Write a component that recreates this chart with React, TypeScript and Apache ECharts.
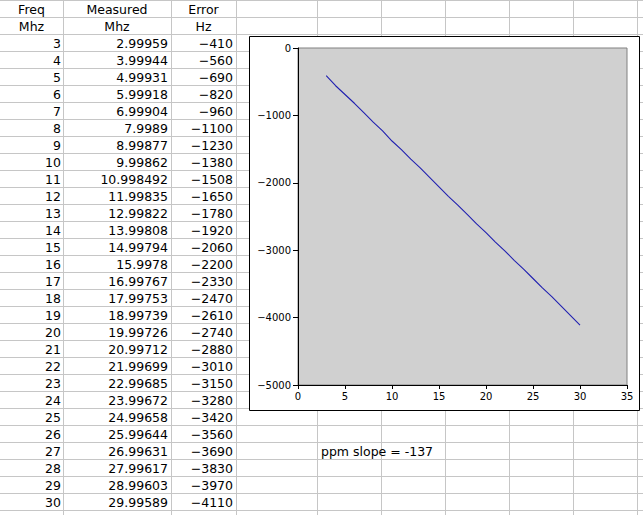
import React, { useEffect, useRef } from "react";
import * as echarts from "echarts";

const freqMhz = [3, 4, 5, 6, 7, 8, 9, 10, 11, 12, 13, 14, 15, 16, 17, 18, 19, 20, 21, 22, 23, 24, 25, 26, 27, 28, 29, 30];
const measuredMhz = [
  "2.99959", "3.99944", "4.99931", "5.99918", "6.99904", "7.9989", "8.99877", "9.99862",
  "10.998492", "11.99835", "12.99822", "13.99808", "14.99794", "15.9978", "16.99767", "17.99753",
  "18.99739", "19.99726", "20.99712", "21.99699", "22.99685", "23.99672", "24.99658", "25.99644",
  "26.99631", "27.99617", "28.99603", "29.99589",
];
const errorHz = [
  -410, -560, -690, -820, -960, -1100, -1230, -1380, -1508, -1650, -1780, -1920, -2060, -2200,
  -2330, -2470, -2610, -2740, -2880, -3010, -3150, -3280, -3420, -3560, -3690, -3830, -3970, -4110,
];
const headerRow1 = ["Freq", "Measured", "Error"];
const headerRow2 = ["Mhz", "Mhz", "Hz"];
const note = "ppm slope = -137";

const FONT = "DejaVu Sans";
const ROW_H = 17;
const colLines = [63, 171, 236, 317, 381, 445, 509, 573, 637];
const colCenters = [31.5, 117, 203.5];
const colRights = [61, 168, 233];

const fmtMinus = (v: number) => (v < 0 ? "\u2212" + Math.abs(v) : String(v));

export default function App() {
  const ref = useRef<HTMLDivElement>(null);
  useEffect(() => {
    if (!ref.current) return;
    const chart = echarts.init(ref.current, null, { renderer: "svg" });
    const W = 643;
    const H = 515;
    const graphics: any[] = [];
    for (let k = 0; k * ROW_H <= H; k++) {
      graphics.push({
        type: "line",
        z: 1,
        shape: { x1: 0, y1: k * ROW_H + 0.5, x2: W, y2: k * ROW_H + 0.5 },
        style: { stroke: "#c6c6c6", lineWidth: 1 },
      });
    }
    colLines.forEach((x) => {
      graphics.push({
        type: "line",
        z: 1,
        shape: { x1: x + 0.5, y1: 0, x2: x + 0.5, y2: H },
        style: { stroke: "#c6c6c6", lineWidth: 1 },
      });
    });
    const cellText = (text: string, x: number, row: number, align: string) => ({
      type: "text",
      z: 3,
      x,
      y: row * ROW_H + 9.5,
      style: {
        text,
        fill: "#000",
        font: `12.5px '${FONT}'`,
        align,
        verticalAlign: "middle",
      },
    });
    headerRow1.forEach((t, i) => graphics.push(cellText(t, colCenters[i], 0, "center")));
    headerRow2.forEach((t, i) => graphics.push(cellText(t, colCenters[i], 1, "center")));
    freqMhz.forEach((f, i) => {
      graphics.push(cellText(String(f), colRights[0], i + 2, "right"));
      graphics.push(cellText(measuredMhz[i], colRights[1], i + 2, "right"));
      graphics.push(cellText(fmtMinus(errorHz[i]), colRights[2], i + 2, "right"));
    });
    graphics.push(cellText(note, 321, 26, "left"));
    graphics.push({
      type: "rect",
      z: 2,
      shape: { x: 249.5, y: 36.5, width: 390, height: 374 },
      style: { fill: "#fff", stroke: "#000", lineWidth: 1 },
    });

    chart.setOption({
      animation: false,
      backgroundColor: "#fff",
      graphic: graphics,
      grid: {
        z: 5,
        left: 298,
        top: 48,
        width: 329,
        height: 337,
        show: true,
        backgroundColor: "#d0d0d0",
        borderColor: "#808080",
        borderWidth: 1,
      },
      xAxis: {
        type: "value",
        z: 6,
        min: 0,
        max: 35,
        interval: 5,
        axisLine: { show: true, onZero: false, lineStyle: { color: "#000", width: 1 } },
        axisTick: { show: true, length: 4, lineStyle: { color: "#000" } },
        splitLine: { show: false },
        axisLabel: { color: "#000", fontFamily: FONT, fontSize: 10, margin: 6 },
      },
      yAxis: {
        type: "value",
        z: 6,
        min: -5000,
        max: 0,
        interval: 1000,
        axisLine: { show: true, onZero: false, lineStyle: { color: "#000", width: 1 } },
        axisTick: { show: true, length: 5, lineStyle: { color: "#000" } },
        splitLine: { show: false },
        axisLabel: {
          color: "#000",
          fontFamily: FONT,
          fontSize: 10,
          margin: 7,
          formatter: (v: number) => fmtMinus(v),
        },
      },
      series: [
        {
          type: "line",
          z: 7,
          data: freqMhz.map((f, i) => [f, errorHz[i]]),
          showSymbol: false,
          lineStyle: { color: "#2020b0", width: 1.1 },
        },
      ],
    });
    return () => chart.dispose();
  }, []);
  return (
    <div
      ref={ref}
      style={{ position: "fixed", left: 0, top: 0, width: 643, height: 515 }}
    />
  );
}
